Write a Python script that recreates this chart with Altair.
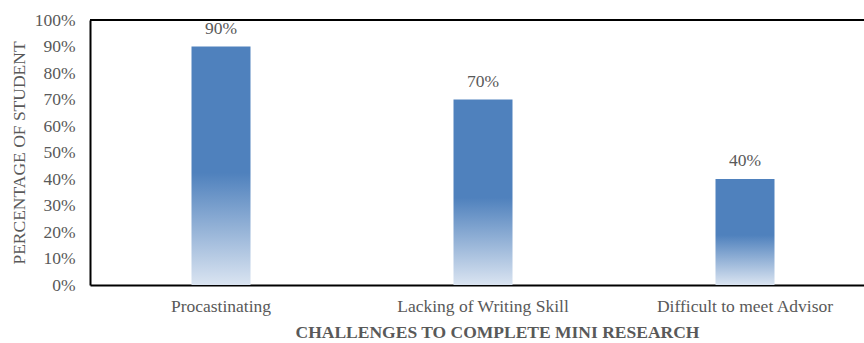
import altair as alt
import pandas as pd

# Survey results: share of students reporting each challenge
challenges = ["Procastinating", "Lacking of Writing Skill", "Difficult to meet Advisor"]
shares = [0.90, 0.70, 0.40]
y_ticks = [0.0, 0.1, 0.2, 0.3, 0.4, 0.5, 0.6, 0.7, 0.8, 0.9, 1.0]

df = pd.DataFrame({"challenge": challenges, "share": shares})

FONT = "Liberation Serif"
GREY = "#595959"
SIZE = 17.5

bar_fill = alt.LinearGradient(
    gradient="linear",
    x1=0, x2=0, y1=0, y2=1,
    stops=[
        alt.GradientStop(color="#4F81BD", offset=0),
        alt.GradientStop(color="#4F81BD", offset=0.53),
        alt.GradientStop(color="#DAE4F1", offset=1),
    ],
)

x_enc = alt.X(
    "challenge:N",
    sort=challenges,
    scale=alt.Scale(range=[0, 786], paddingInner=0, paddingOuter=0),
    axis=alt.Axis(
        title="CHALLENGES TO COMPLETE MINI RESEARCH",
        labelAngle=0,
        ticks=False,
        labelPadding=12,
        titlePadding=9,
        titleX=407,
        titleAlign="center",
        titleFontWeight="bold",
    ),
)

y_enc = alt.Y(
    "share:Q",
    scale=alt.Scale(domain=[0, 1], nice=False),
    axis=alt.Axis(
        title="PERCENTAGE OF STUDENT",
        values=y_ticks,
        format=".0%",
        grid=False,
        ticks=False,
        labelOverlap=False,
        labelPadding=15,
        titlePadding=6,
        titleFontWeight="normal",
    ),
)

bars = alt.Chart(df).mark_bar(size=59, color=bar_fill).encode(x=x_enc, y=y_enc)

labels = alt.Chart(df).mark_text(
    font=FONT, fontSize=SIZE, color=GREY, baseline="middle", dy=-18
).encode(
    x=x_enc,
    y=y_enc,
    text=alt.Text("share:Q", format=".0%"),
)

# frame line along the top of the plot area
top_line = alt.Chart(df).mark_rule(color="black", strokeWidth=2).encode(
    y=alt.value(0)
)

chart = (
    alt.layer(bars, labels, top_line)
    .properties(
        width=774,
        height=265,
        autosize=alt.AutoSizeParams(type="none"),
        padding={"left": 90, "top": 20, "right": 0, "bottom": 58},
    )
    .configure(background="white", font=FONT)
    .configure_view(stroke=None)
    .configure_axis(
        labelFont=FONT, labelFontSize=SIZE, labelColor=GREY,
        titleFont=FONT, titleFontSize=SIZE, titleColor=GREY,
        domainColor="black", domainWidth=2,
    )
)

chart.save("out.html", embed_options={"renderer": "svg", "actions": False})
